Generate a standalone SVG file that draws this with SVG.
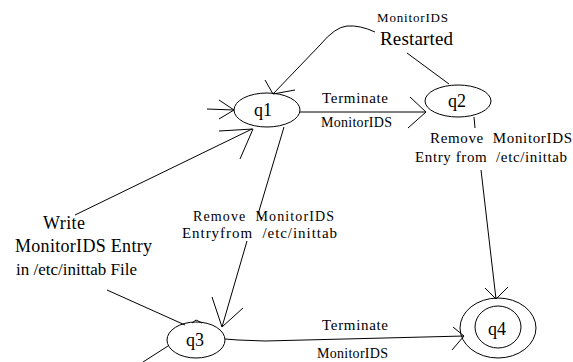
<svg xmlns="http://www.w3.org/2000/svg" width="573" height="362" viewBox="0 0 573 362">
<style>
.st{fill:none;stroke:#000;stroke-width:1}
.t{font-family:"Liberation Serif","Times New Roman",serif;fill:#000}
.nl{font-size:18px;text-anchor:middle}
</style>
<rect width="573" height="362" fill="#fff"/>
<g id="connectors" class="st">
  <!-- initial arrow into q1 -->
  <line x1="207" y1="109" x2="234" y2="110"/>
  <polyline points="219,100 234,110 219,119"/>
  <!-- Write edge into q1 -->
  <line x1="75" y1="215" x2="252" y2="129"/>
  <polyline points="219,131 253,129 240,159"/>
  <!-- Restarted edge q2 -> q1 -->
  <line x1="449" y1="84" x2="407" y2="53"/>
  <path d="M375,32 Q360,25 347,26 Q335,27 320,45 L273,94"/>
  <polyline points="265,80 273,94 295,90"/>
  <!-- q1 -> q2 -->
  <line x1="300" y1="112" x2="426" y2="112"/>
  <polyline points="410,97 426,112 408,128"/>
  <!-- q1 -> q3 -->
  <path d="M284,127 L259,211 Q258,216 262,218"/>
  <line x1="247" y1="241" x2="222" y2="327"/>
  <polyline points="212,297 222,327 243,308"/>
  <!-- q2 -> q4 -->
  <line x1="474" y1="117" x2="475" y2="128"/>
  <line x1="481" y1="170" x2="496" y2="299"/>
  <polyline points="485,288 496,299 508,287"/>
  <!-- Write label -> q3 -->
  <line x1="107" y1="290" x2="185" y2="325"/>
  <polyline points="192,323 196,320 202,323"/>
  <!-- start line at q3 -->
  <line x1="143" y1="362" x2="168" y2="346"/>
  <!-- q3 -> q4 -->
  <polyline points="225,339 238,340 265,341 464,336"/>
  <polyline points="453,327 464,336 452,350"/>
</g>
<g id="q1">
  <ellipse class="st" cx="267" cy="110" rx="33" ry="17"/>
  <text class="t nl" x="263" y="116">q1</text>
</g>
<g id="q2">
  <ellipse class="st" cx="458" cy="101" rx="33" ry="16"/>
  <text class="t nl" x="457" y="107">q2</text>
</g>
<g id="q3">
  <ellipse class="st" cx="196" cy="340" rx="29" ry="18"/>
  <text class="t nl" x="195" y="346">q3</text>
</g>
<g id="q4">
  <ellipse class="st" cx="498" cy="328" rx="38" ry="30"/>
  <ellipse class="st" cx="498" cy="327" rx="23" ry="21"/>
  <text class="t nl" x="497" y="335">q4</text>
</g>
<g id="labels">
  <text class="t" x="377" y="22" font-size="13" textLength="71">MonitorIDS</text>
  <text class="t" x="380" y="45" font-size="19" textLength="73">Restarted</text>
  <text class="t" x="322" y="103" font-size="15" textLength="66">Terminate</text>
  <text class="t" x="321" y="127" font-size="14" textLength="71">MonitorIDS</text>
  <text class="t" x="430" y="143" font-size="15" textLength="142" xml:space="preserve">Remove  MonitorIDS</text>
  <text class="t" x="415" y="162" font-size="15" textLength="152" xml:space="preserve">Entry from  /etc/inittab</text>
  <text class="t" x="193" y="221" font-size="14" textLength="141" xml:space="preserve">Remove  MonitorIDS</text>
  <text class="t" x="182" y="238" font-size="15" textLength="155" xml:space="preserve">Entryfrom  /etc/inittab</text>
  <text class="t" x="43" y="229" font-size="18" textLength="42">Write</text>
  <text class="t" x="15" y="252" font-size="18" textLength="137">MonitorIDS Entry</text>
  <text class="t" x="16" y="275" font-size="17" textLength="121">in /etc/inittab File</text>
  <text class="t" x="322" y="330" font-size="15" textLength="66">Terminate</text>
  <text class="t" x="317" y="358" font-size="14" textLength="71">MonitorIDS</text>
</g>
</svg>
